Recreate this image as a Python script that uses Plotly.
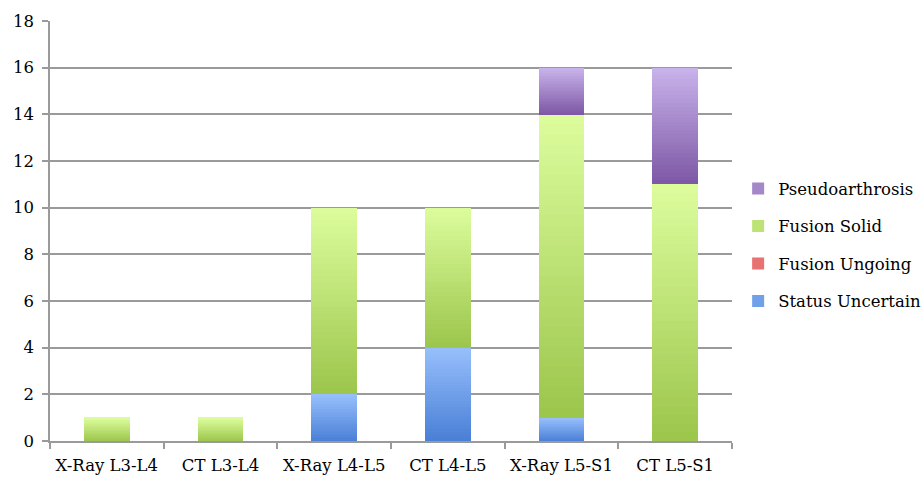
import plotly.graph_objects as go

categories = ["X-Ray L3-L4", "CT L3-L4", "X-Ray L4-L5", "CT L4-L5", "X-Ray L5-S1", "CT L5-S1"]
status_uncertain = [0, 0, 2, 4, 1, 0]
fusion_ungoing = [0, 0, 0, 0, 0, 0]
fusion_solid = [1, 1, 8, 6, 13, 11]
pseudoarthrosis = [0, 0, 0, 0, 2, 5]
y_ticks = [0, 2, 4, 6, 8, 10, 12, 14, 16, 18]

# series: name, values, bottom colour, top colour (vertical gradient), legend rank
series = [
    ("Status Uncertain", status_uncertain, (74, 128, 214), (150, 190, 252), 4),
    ("Fusion Ungoing", fusion_ungoing, (214, 74, 74), (248, 150, 150), 3),
    ("Fusion Solid", fusion_solid, (156, 198, 76), (220, 252, 156), 2),
    ("Pseudoarthrosis", pseudoarthrosis, (126, 88, 166), (200, 178, 234), 1),
]

N = 30  # gradient steps per segment
FONT = "DejaVu Serif"
FS = 16.5

fig = go.Figure()
for name, vals, c0, c1, rank in series:
    for k in range(N):
        t = k / (N - 1)
        col = "rgb({},{},{})".format(*[round(a + (b - a) * t) for a, b in zip(c0, c1)])
        fig.add_trace(go.Bar(
            x=categories,
            y=[v / N for v in vals],
            name=name,
            legendgroup=name,
            legendrank=rank,
            showlegend=(k == N // 2),
            marker=dict(color=col, line=dict(width=0)),
            width=0.4,
            hoverinfo="skip",
        ))

fig.update_layout(
    width=923, height=484,
    barmode="stack",
    bargap=0,
    plot_bgcolor="white", paper_bgcolor="white",
    margin=dict(l=50, r=191, t=21, b=43, autoexpand=False),
    font=dict(family=FONT, size=FS, color="black"),
    legend=dict(
        x=1.009, y=0.467, xanchor="left", yanchor="middle",
        traceorder="grouped", tracegroupgap=13,
        font=dict(family=FONT, size=FS, color="black"),
        itemwidth=30,
    ),
    xaxis=dict(
        type="category",
        showline=True, linecolor="#9a9a9a", linewidth=1.5,
        ticks="outside", tickson="boundaries", ticklen=6, tickcolor="#9a9a9a", tickwidth=1.5,
        showgrid=False,
        tickangle=0, automargin=False,
        ticklabelstandoff=8,
        tickfont=dict(family=FONT, size=FS, color="black"),
    ),
    yaxis=dict(
        range=[0, 18], tickvals=y_ticks,
        showline=True, linecolor="#9a9a9a", linewidth=1.5,
        ticks="outside", ticklen=6, tickcolor="#9a9a9a", tickwidth=1.5,
        showgrid=True, gridcolor="#9a9a9a", gridwidth=1.5,
        zeroline=False, automargin=False,
        ticklabelstandoff=5,
        tickfont=dict(family=FONT, size=FS, color="black"),
    ),
)

fig.write_html("out.html")
